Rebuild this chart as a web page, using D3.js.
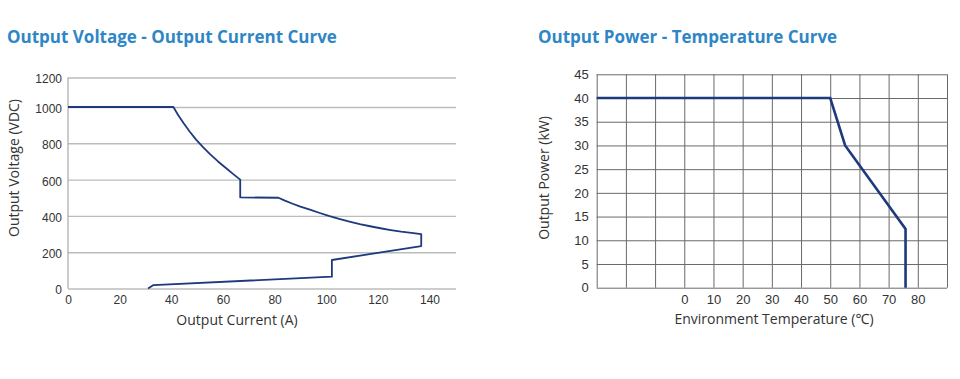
<!DOCTYPE html>
<html><head><meta charset="utf-8">
<script src="https://cdn.jsdelivr.net/npm/d3@7"></script>
<style>
html,body{margin:0;padding:0;background:#fff;}
svg{display:block;}
</style></head>
<body>
<svg id="c" width="960" height="379"></svg>
<script>
// ---------- DATA ----------
const titles = ["Output Voltage - Output Current Curve", "Output Power - Temperature Curve"];

// Left chart: output voltage (VDC) vs output current (A)
const currentA = [0, 40.8, 42.7, 44.8, 47.1, 49.6, 52.2, 55.0, 58.1, 61.5, 64.0, 66.7, 66.7,
  81.5, 84, 87, 90, 94, 97.5, 101, 105, 109, 113, 117, 121, 125, 129, 133, 136.8,
  136.8, 102.2, 102.2, 33.1, 31];
const voltageV = [1000, 1000, 955, 910, 865, 820, 780, 740, 700, 660, 630, 600, 502,
  500, 484, 467, 451, 433, 416, 400, 384, 369, 355, 343, 332, 322, 313, 306, 300,
  234, 157, 65, 19, 0];
const leftXTicks = [0, 20, 40, 60, 80, 100, 120, 140];
const leftYTicks = [0, 200, 400, 600, 800, 1000, 1200];

// Right chart: output power (kW) vs environment temperature (°C)
const tempC = [-30, 50, 55.1, 75.8, 75.8];
const powerKW = [40, 40, 30, 12.4, 0];
const rightXGrid = [-30, -20, -10, 0, 10, 20, 30, 40, 50, 60, 70, 80, 90];
const rightXLabels = [0, 10, 20, 30, 40, 50, 60, 70, 80];
const rightYTicks = [0, 5, 10, 15, 20, 25, 30, 35, 40, 45];

const axisTitles = {
  leftX: "Output Current (A)", leftY: "Output Voltage (VDC)",
  rightX: "Environment Temperature (℃)", rightY: "Output Power (kW)"
};

// ---------- DRAW ----------
const svg = d3.select("#c");
svg.append("rect").attr("width", 960).attr("height", 379).attr("fill", "#fff");

const titleColor = "#2f86c5";
const lineColor = "#1d3a7c";
const tickFont = "'Liberation Sans', Arial, sans-serif";
const labelFont = "'Open Sans', 'Noto Sans', sans-serif";

svg.append("text").attr("x", 7).attr("y", 43).text(titles[0])
  .attr("font-family", labelFont).attr("font-weight", 700).attr("font-size", 17).attr("fill", titleColor);
svg.append("text").attr("x", 538).attr("y", 43).text(titles[1])
  .attr("font-family", labelFont).attr("font-weight", 700).attr("font-size", 17).attr("fill", titleColor);

// ---- Left chart ----
const lx = d3.scaleLinear().domain([0, 140]).range([68, 429.5]);
const ly = d3.scaleLinear().domain([0, 1000, 1200]).range([288.5, 107, 77.5]);
const lRight = 456;

const lg = svg.append("g");
lg.append("g").attr("transform", `translate(68,0)`)
  .call(d3.axisLeft(ly).tickValues(leftYTicks).tickSize(-(lRight - 68)).tickFormat(""))
  .call(g => g.select(".domain").remove())
  .call(g => g.selectAll("line").attr("stroke", "#bcbcbc").attr("stroke-width", 1.4));
lg.append("line").attr("x1", 68).attr("x2", 68).attr("y1", ly(1200)).attr("y2", ly(0))
  .attr("stroke", "#a8a8a8").attr("stroke-width", 1.2);
lg.append("g").attr("transform", `translate(68,0)`)
  .call(d3.axisLeft(ly).tickValues(leftYTicks).tickSize(0).tickPadding(6).tickFormat(d3.format("d")))
  .call(g => g.select(".domain").remove())
  .call(g => g.selectAll("text").attr("font-family", tickFont).attr("font-size", 12).attr("fill", "#333").attr("dy", "0.45em"));
lg.append("g").attr("transform", `translate(0,${ly(0)})`)
  .call(d3.axisBottom(lx).tickValues(leftXTicks).tickSize(0).tickPadding(7).tickFormat(d3.format("d")))
  .call(g => g.select(".domain").remove())
  .call(g => g.selectAll("text").attr("font-family", tickFont).attr("font-size", 12).attr("fill", "#333"));
const lLine = d3.line().x((d, i) => lx(currentA[i])).y((d, i) => ly(voltageV[i]));
lg.append("path").attr("d", lLine(currentA)).attr("fill", "none")
  .attr("stroke", lineColor).attr("stroke-width", 1.8).attr("stroke-linejoin", "round");
lg.append("text").attr("x", 237).attr("y", 325).attr("text-anchor", "middle").text(axisTitles.leftX)
  .attr("font-family", labelFont).attr("font-size", 14).attr("fill", "#333");
lg.append("text").attr("transform", "translate(19,168) rotate(-90)").attr("text-anchor", "middle").text(axisTitles.leftY)
  .attr("font-family", labelFont).attr("font-size", 14).attr("fill", "#333");

// ---- Right chart ----
const rx = d3.scaleLinear().domain([-30, 90]).range([596.7, 947]);
const ry = d3.scaleLinear().domain([0, 45]).range([287.7, 74.3]);
const rg = svg.append("g");
rg.append("g").attr("transform", `translate(0,${ry(0)})`)
  .call(d3.axisBottom(rx).tickValues(rightXGrid).tickSize(-(ry(0) - ry(45))).tickFormat(""))
  .call(g => g.select(".domain").remove())
  .call(g => g.selectAll("line").attr("stroke", "#6a6a6a").attr("stroke-width", 1));
rg.append("g").attr("transform", `translate(${rx(-30)},0)`)
  .call(d3.axisLeft(ry).tickValues(rightYTicks).tickSize(-(rx(90) - rx(-30))).tickFormat(""))
  .call(g => g.select(".domain").remove())
  .call(g => g.selectAll("line").attr("stroke", "#6a6a6a").attr("stroke-width", 1));
rg.append("g").attr("transform", `translate(${rx(-30)},0)`)
  .call(d3.axisLeft(ry).tickValues(rightYTicks).tickSize(0).tickPadding(8).tickFormat(d3.format("d")))
  .call(g => g.select(".domain").remove())
  .call(g => g.selectAll("text").attr("font-family", tickFont).attr("font-size", 13).attr("fill", "#333"));
rg.append("g").attr("transform", `translate(0,${ry(0)})`)
  .call(d3.axisBottom(rx).tickValues(rightXLabels).tickSize(0).tickPadding(7).tickFormat(d3.format("d")))
  .call(g => g.select(".domain").remove())
  .call(g => g.selectAll("text").attr("font-family", tickFont).attr("font-size", 13).attr("fill", "#333"));
const rLine = d3.line().x((d, i) => rx(tempC[i])).y((d, i) => ry(powerKW[i]));
rg.append("path").attr("d", rLine(tempC)).attr("fill", "none")
  .attr("stroke", lineColor).attr("stroke-width", 2.6).attr("stroke-linejoin", "miter");
rg.append("text").attr("x", 774).attr("y", 324).attr("text-anchor", "middle").text(axisTitles.rightX)
  .attr("font-family", labelFont).attr("font-size", 14).attr("fill", "#333");
rg.append("text").attr("transform", "translate(549,178) rotate(-90)").attr("text-anchor", "middle").text(axisTitles.rightY)
  .attr("font-family", labelFont).attr("font-size", 14).attr("fill", "#333");
</script>
</body></html>
